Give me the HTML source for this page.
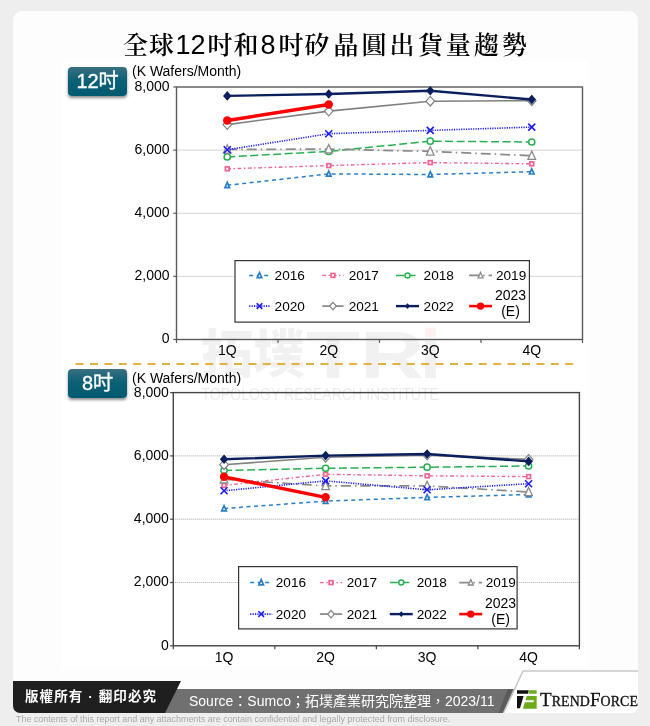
<!DOCTYPE html>
<html lang="zh-Hant">
<head>
<meta charset="utf-8">
<title>全球12吋和8吋矽晶圓出貨量趨勢</title>
<style>
html,body{margin:0;padding:0;}
body{width:650px;height:726px;background:#eeeeee;position:relative;overflow:hidden;font-family:"Liberation Sans","Noto Sans CJK TC",sans-serif;}
.card{position:absolute;left:13px;top:11px;width:625px;height:702px;background:#fdfdfd;border-radius:9px 9px 5px 7px;}
.plate{position:absolute;left:62px;top:61px;width:526px;height:607px;background:#fff;}
.title{position:absolute;left:123px;top:27px;font-family:"Liberation Sans","Noto Serif CJK SC",serif;font-size:25px;font-weight:600;line-height:36px;letter-spacing:1px;color:#000;white-space:nowrap;}
.title i{font-style:normal;font-weight:normal;font-size:27px;letter-spacing:0;margin:0 2px 0 0.5px;}
.title i.e{margin:0 3px 0 1px;}
.title span{letter-spacing:3.1px;margin-left:2.8px;}
.badge{position:absolute;left:68px;width:59px;height:29px;border-radius:4px;background:linear-gradient(#3b7081,#0d6076 45%,#005a70);box-shadow:0 2px 3px rgba(0,0,0,.45);color:#fff;font-size:20px;line-height:29px;text-align:center;white-space:nowrap;-webkit-text-stroke:0.35px #fff;}
.b1{top:67px;}
.b2{top:369px;}
svg.main{position:absolute;left:0;top:0;}
svg.main text{font-family:"Liberation Sans",sans-serif;font-size:14px;fill:#000;}
.copy{position:absolute;left:13px;top:681px;width:168px;height:32px;background:#1f1f1f;border-radius:0 0 0 7px;clip-path:polygon(0 0,168px 0,152px 32px,0 32px);color:#fff;font-weight:bold;font-size:13.5px;line-height:31px;letter-spacing:1.1px;white-space:nowrap;}
.copy span{padding-left:12px;}
.src{position:absolute;left:150px;top:689px;width:372px;height:24px;background:#707070;color:#fff;font-size:14px;line-height:25px;white-space:nowrap;}
.src span{position:absolute;left:39px;top:0;}
.disc{position:absolute;left:16px;top:713px;font-size:8.95px;line-height:12px;color:#a9a9a9;white-space:nowrap;}
.brand{position:absolute;left:540px;top:689px;font-family:"Liberation Serif",serif;color:#111;white-space:nowrap;line-height:22px;font-size:13.9px;letter-spacing:0.1px;-webkit-text-stroke:0.3px #111;}
.brand b{font-weight:normal;font-size:19px;}
</style>
</head>
<body>
<div class="card"></div>
<div class="plate"></div>
<div class="title">全球<i>12</i>吋和<i class="e">8</i>吋矽<span>晶圓出貨量趨勢</span></div>
<svg class="main" width="650" height="726" viewBox="0 0 650 726">
<g opacity="0.05">
<text x="201" y="373" style="font-family:'Liberation Sans','Noto Sans CJK TC',sans-serif;font-size:52px;font-weight:900;fill:#000;" textLength="104" lengthAdjust="spacingAndGlyphs">拓墣</text>
<text x="306" y="378" style="font-size:66px;font-weight:bold;fill:#000;" textLength="118" lengthAdjust="spacingAndGlyphs">TR</text>
<rect x="425" y="341" width="11" height="37" fill="#000"/>
<rect x="425" y="327.5" width="11" height="10" fill="#e00020"/>
</g>
<line x1="176.5" y1="276.38" x2="582.5" y2="276.38" stroke="#a8a8a8" stroke-width="1" stroke-dasharray="1 1"/>
<line x1="176.5" y1="213.25" x2="582.5" y2="213.25" stroke="#a8a8a8" stroke-width="1" stroke-dasharray="1 1"/>
<line x1="176.5" y1="150.12" x2="582.5" y2="150.12" stroke="#a8a8a8" stroke-width="1" stroke-dasharray="1 1"/>
<rect x="176.5" y="87" width="406" height="252.5" fill="none" stroke="#5a5a5a" stroke-width="1.4"/>
<line x1="173.3" y1="339.5" x2="176.5" y2="339.5" stroke="#5a5a5a" stroke-width="1.2"/>
<line x1="173.3" y1="276.38" x2="176.5" y2="276.38" stroke="#5a5a5a" stroke-width="1.2"/>
<line x1="173.3" y1="213.25" x2="176.5" y2="213.25" stroke="#5a5a5a" stroke-width="1.2"/>
<line x1="173.3" y1="150.12" x2="176.5" y2="150.12" stroke="#5a5a5a" stroke-width="1.2"/>
<line x1="173.3" y1="87" x2="176.5" y2="87" stroke="#5a5a5a" stroke-width="1.2"/>
<line x1="176.5" y1="339.5" x2="176.5" y2="343" stroke="#5a5a5a" stroke-width="1.2"/>
<line x1="278" y1="339.5" x2="278" y2="343" stroke="#5a5a5a" stroke-width="1.2"/>
<line x1="379.5" y1="339.5" x2="379.5" y2="343" stroke="#5a5a5a" stroke-width="1.2"/>
<line x1="481" y1="339.5" x2="481" y2="343" stroke="#5a5a5a" stroke-width="1.2"/>
<line x1="582.5" y1="339.5" x2="582.5" y2="343" stroke="#5a5a5a" stroke-width="1.2"/>
<text x="169.6" y="343.4" text-anchor="end">0</text>
<text x="169.6" y="280.27" text-anchor="end">2,000</text>
<text x="169.6" y="217.15" text-anchor="end">4,000</text>
<text x="169.6" y="154.03" text-anchor="end">6,000</text>
<text x="169.6" y="90.9" text-anchor="end">8,000</text>
<text x="227.25" y="355.3" text-anchor="middle">1Q</text>
<text x="328.75" y="355.3" text-anchor="middle">2Q</text>
<text x="430.25" y="355.3" text-anchor="middle">3Q</text>
<text x="531.75" y="355.3" text-anchor="middle">4Q</text>
<text x="132" y="76.4">(K Wafers/Month)</text>
<polyline points="227.25,185.3 328.75,173.9 430.25,174.5 531.75,171.7" fill="none" stroke="#2a7fc4" stroke-width="1.5" stroke-dasharray="4 3.5" stroke-linejoin="round"/>
<polygon points="227.25,182.4 229.55,187.6 224.95,187.6" fill="#fff" stroke="#2a7fc4" stroke-width="1.7"/>
<polygon points="328.75,171 331.05,176.2 326.45,176.2" fill="#fff" stroke="#2a7fc4" stroke-width="1.7"/>
<polygon points="430.25,171.6 432.55,176.8 427.95,176.8" fill="#fff" stroke="#2a7fc4" stroke-width="1.7"/>
<polygon points="531.75,168.8 534.05,174 529.45,174" fill="#fff" stroke="#2a7fc4" stroke-width="1.7"/>
<polyline points="227.25,168.8 328.75,165.6 430.25,162.6 531.75,163.8" fill="none" stroke="#f0648f" stroke-width="1.4" stroke-dasharray="3.8 2.5 1.5 2.5" stroke-linejoin="round"/>
<rect x="225.35" y="166.9" width="3.8" height="3.8" fill="#fff" stroke="#f0648f" stroke-width="1.7"/>
<rect x="326.85" y="163.7" width="3.8" height="3.8" fill="#fff" stroke="#f0648f" stroke-width="1.7"/>
<rect x="428.35" y="160.7" width="3.8" height="3.8" fill="#fff" stroke="#f0648f" stroke-width="1.7"/>
<rect x="529.85" y="161.9" width="3.8" height="3.8" fill="#fff" stroke="#f0648f" stroke-width="1.7"/>
<polyline points="227.25,156.9 328.75,151.4 430.25,141.2 531.75,142" fill="none" stroke="#27b050" stroke-width="1.5" stroke-dasharray="8 3.5" stroke-linejoin="round"/>
<circle cx="227.25" cy="156.9" r="3.1" fill="#fff" stroke="#27b050" stroke-width="1.5"/>
<circle cx="328.75" cy="151.4" r="3.1" fill="#fff" stroke="#27b050" stroke-width="1.5"/>
<circle cx="430.25" cy="141.2" r="3.1" fill="#fff" stroke="#27b050" stroke-width="1.5"/>
<circle cx="531.75" cy="142" r="3.1" fill="#fff" stroke="#27b050" stroke-width="1.5"/>
<polyline points="227.25,149.4 328.75,149.1 430.25,151.4 531.75,155.7" fill="none" stroke="#8a8a8a" stroke-width="1.7" stroke-dasharray="10 4 1.5 4" stroke-linejoin="round"/>
<polygon points="227.25,144.8 231.05,153.08 223.45,153.08" fill="#fff" stroke="#8a8a8a" stroke-width="1.3"/>
<polygon points="328.75,144.5 332.55,152.78 324.95,152.78" fill="#fff" stroke="#8a8a8a" stroke-width="1.3"/>
<polygon points="430.25,146.8 434.05,155.08 426.45,155.08" fill="#fff" stroke="#8a8a8a" stroke-width="1.3"/>
<polygon points="531.75,151.1 535.55,159.38 527.95,159.38" fill="#fff" stroke="#8a8a8a" stroke-width="1.3"/>
<polyline points="227.25,149.75 328.75,133.7 430.25,130.4 531.75,127.1" fill="none" stroke="#1c1cf0" stroke-width="1.6" stroke-dasharray="1.2 1.2" stroke-linejoin="round"/>
<path d="M223.75 146.25L230.75 153.25M230.75 146.25L223.75 153.25" stroke="#1c1cf0" stroke-width="1.6" fill="none"/>
<path d="M325.25 130.2L332.25 137.2M332.25 130.2L325.25 137.2" stroke="#1c1cf0" stroke-width="1.6" fill="none"/>
<path d="M426.75 126.9L433.75 133.9M433.75 126.9L426.75 133.9" stroke="#1c1cf0" stroke-width="1.6" fill="none"/>
<path d="M528.25 123.6L535.25 130.6M535.25 123.6L528.25 130.6" stroke="#1c1cf0" stroke-width="1.6" fill="none"/>
<polyline points="227.25,124.6 328.75,111.1 430.25,101.2 531.75,100.7" fill="none" stroke="#808080" stroke-width="1.6" stroke-linejoin="round"/>
<polygon points="227.25,119.8 231.55,124.6 227.25,129.4 222.95,124.6" fill="#fff" stroke="#808080" stroke-width="1.2"/>
<polygon points="328.75,106.3 333.05,111.1 328.75,115.9 324.45,111.1" fill="#fff" stroke="#808080" stroke-width="1.2"/>
<polygon points="430.25,96.4 434.55,101.2 430.25,106 425.95,101.2" fill="#fff" stroke="#808080" stroke-width="1.2"/>
<polygon points="531.75,95.9 536.05,100.7 531.75,105.5 527.45,100.7" fill="#fff" stroke="#808080" stroke-width="1.2"/>
<polyline points="227.25,95.9 328.75,94 430.25,90.7 531.75,99.5" fill="none" stroke="#0b1f5e" stroke-width="2.4" stroke-linejoin="round"/>
<polygon points="227.25,91.1 231.45,95.9 227.25,100.7 223.05,95.9" fill="#0b1f5e"/>
<polygon points="328.75,89.2 332.95,94 328.75,98.8 324.55,94" fill="#0b1f5e"/>
<polygon points="430.25,85.9 434.45,90.7 430.25,95.5 426.05,90.7" fill="#0b1f5e"/>
<polygon points="531.75,94.7 535.95,99.5 531.75,104.3 527.55,99.5" fill="#0b1f5e"/>
<polyline points="227.25,120.5 328.75,104.5" fill="none" stroke="#ff0000" stroke-width="3.4" stroke-linejoin="round"/>
<circle cx="227.25" cy="120.5" r="4.2" fill="#ff0000"/>
<circle cx="328.75" cy="104.5" r="4.2" fill="#ff0000"/>
<rect x="235" y="260.6" width="294.4" height="61.5" fill="#fff" stroke="#333" stroke-width="1.2"/>
<line x1="249.2" y1="275.4" x2="269.8" y2="275.4" stroke="#2a7fc4" stroke-width="1.5" stroke-dasharray="4 3.5"/>
<polygon points="259.5,272.5 261.8,277.7 257.2,277.7" fill="#fff" stroke="#2a7fc4" stroke-width="1.7"/>
<text x="274.6" y="279.9" style="font-size:13.6px">2016</text>
<line x1="322.3" y1="275.4" x2="343.6" y2="275.4" stroke="#f0648f" stroke-width="1.4" stroke-dasharray="3.8 2.5 1.5 2.5"/>
<rect x="331.05" y="273.5" width="3.8" height="3.8" fill="#fff" stroke="#f0648f" stroke-width="1.7"/>
<text x="348.7" y="279.9" style="font-size:13.6px">2017</text>
<line x1="396" y1="275.4" x2="419" y2="275.4" stroke="#27b050" stroke-width="1.5" stroke-dasharray="8 3.5"/>
<circle cx="407.5" cy="275.4" r="2.48" fill="#fff" stroke="#27b050" stroke-width="1.5"/>
<text x="423.6" y="279.9" style="font-size:13.6px">2018</text>
<line x1="469.1" y1="275.4" x2="492" y2="275.4" stroke="#8a8a8a" stroke-width="1.7" stroke-dasharray="10 4 1.5 4"/>
<polygon points="480.55,272.41 483.02,277.79 478.08,277.79" fill="#fff" stroke="#8a8a8a" stroke-width="1.3"/>
<text x="496" y="279.9" style="font-size:13.6px">2019</text>
<line x1="249.2" y1="306.1" x2="269.8" y2="306.1" stroke="#1c1cf0" stroke-width="1.6" stroke-dasharray="1.2 1.2"/>
<path d="M256.7 303.3L262.3 308.9M262.3 303.3L256.7 308.9" stroke="#1c1cf0" stroke-width="1.6" fill="none"/>
<text x="274.6" y="310.6" style="font-size:13.6px">2020</text>
<line x1="322.3" y1="306.1" x2="343.6" y2="306.1" stroke="#808080" stroke-width="1.6"/>
<polygon points="332.95,302.36 336.3,306.1 332.95,309.84 329.6,306.1" fill="#fff" stroke="#808080" stroke-width="1.2"/>
<text x="348.7" y="310.6" style="font-size:13.6px">2021</text>
<line x1="396" y1="306.1" x2="419" y2="306.1" stroke="#0b1f5e" stroke-width="2.4"/>
<polygon points="407.5,303.22 410.02,306.1 407.5,308.98 404.98,306.1" fill="#0b1f5e"/>
<text x="423.6" y="310.6" style="font-size:13.6px">2022</text>
<line x1="469.1" y1="306.1" x2="492" y2="306.1" stroke="#ff0000" stroke-width="2.6"/>
<circle cx="480.55" cy="306.1" r="3.7" fill="#ff0000"/>
<text x="510.5" y="299.9" text-anchor="middle">2023</text>
<text x="510.5" y="316.1" text-anchor="middle">(E)</text>
<line x1="75.6" y1="364" x2="576.4" y2="364" stroke="#e2b240" stroke-width="2" stroke-dasharray="8 6.4"/>
<line x1="173.3" y1="582.5" x2="579.4" y2="582.5" stroke="#a8a8a8" stroke-width="1" stroke-dasharray="1 1"/>
<line x1="173.3" y1="519.2" x2="579.4" y2="519.2" stroke="#a8a8a8" stroke-width="1" stroke-dasharray="1 1"/>
<line x1="173.3" y1="455.9" x2="579.4" y2="455.9" stroke="#a8a8a8" stroke-width="1" stroke-dasharray="1 1"/>
<rect x="173.3" y="392.6" width="406.1" height="253.2" fill="none" stroke="#444" stroke-width="1.4"/>
<line x1="170.1" y1="645.8" x2="173.3" y2="645.8" stroke="#444" stroke-width="1.2"/>
<line x1="170.1" y1="582.5" x2="173.3" y2="582.5" stroke="#444" stroke-width="1.2"/>
<line x1="170.1" y1="519.2" x2="173.3" y2="519.2" stroke="#444" stroke-width="1.2"/>
<line x1="170.1" y1="455.9" x2="173.3" y2="455.9" stroke="#444" stroke-width="1.2"/>
<line x1="170.1" y1="392.6" x2="173.3" y2="392.6" stroke="#444" stroke-width="1.2"/>
<line x1="173.3" y1="645.8" x2="173.3" y2="649.3" stroke="#444" stroke-width="1.2"/>
<line x1="274.82" y1="645.8" x2="274.82" y2="649.3" stroke="#444" stroke-width="1.2"/>
<line x1="376.35" y1="645.8" x2="376.35" y2="649.3" stroke="#444" stroke-width="1.2"/>
<line x1="477.88" y1="645.8" x2="477.88" y2="649.3" stroke="#444" stroke-width="1.2"/>
<line x1="579.4" y1="645.8" x2="579.4" y2="649.3" stroke="#444" stroke-width="1.2"/>
<text x="168.9" y="649.7" text-anchor="end">0</text>
<text x="168.9" y="586.4" text-anchor="end">2,000</text>
<text x="168.9" y="523.1" text-anchor="end">4,000</text>
<text x="168.9" y="459.8" text-anchor="end">6,000</text>
<text x="168.9" y="396.5" text-anchor="end">8,000</text>
<text x="224.06" y="661.6" text-anchor="middle">1Q</text>
<text x="325.59" y="661.6" text-anchor="middle">2Q</text>
<text x="427.11" y="661.6" text-anchor="middle">3Q</text>
<text x="528.64" y="661.6" text-anchor="middle">4Q</text>
<text x="132" y="382.8">(K Wafers/Month)</text>
<polyline points="224.06,508.5 325.59,501.1 427.11,497.4 528.64,494.5" fill="none" stroke="#2a7fc4" stroke-width="1.5" stroke-dasharray="4 3.5" stroke-linejoin="round"/>
<polygon points="224.06,505.6 226.36,510.8 221.76,510.8" fill="#fff" stroke="#2a7fc4" stroke-width="1.7"/>
<polygon points="325.59,498.2 327.89,503.4 323.29,503.4" fill="#fff" stroke="#2a7fc4" stroke-width="1.7"/>
<polygon points="427.11,494.5 429.41,499.7 424.81,499.7" fill="#fff" stroke="#2a7fc4" stroke-width="1.7"/>
<polygon points="528.64,491.6 530.94,496.8 526.34,496.8" fill="#fff" stroke="#2a7fc4" stroke-width="1.7"/>
<polyline points="224.06,485.4 325.59,474.3 427.11,475.8 528.64,476.6" fill="none" stroke="#f0648f" stroke-width="1.4" stroke-dasharray="3.8 2.5 1.5 2.5" stroke-linejoin="round"/>
<rect x="222.16" y="483.5" width="3.8" height="3.8" fill="#fff" stroke="#f0648f" stroke-width="1.7"/>
<rect x="323.69" y="472.4" width="3.8" height="3.8" fill="#fff" stroke="#f0648f" stroke-width="1.7"/>
<rect x="425.21" y="473.9" width="3.8" height="3.8" fill="#fff" stroke="#f0648f" stroke-width="1.7"/>
<rect x="526.74" y="474.7" width="3.8" height="3.8" fill="#fff" stroke="#f0648f" stroke-width="1.7"/>
<polyline points="224.06,470.5 325.59,468.3 427.11,467.2 528.64,466" fill="none" stroke="#27b050" stroke-width="1.5" stroke-dasharray="8 3.5" stroke-linejoin="round"/>
<circle cx="224.06" cy="470.5" r="3.1" fill="#fff" stroke="#27b050" stroke-width="1.5"/>
<circle cx="325.59" cy="468.3" r="3.1" fill="#fff" stroke="#27b050" stroke-width="1.5"/>
<circle cx="427.11" cy="467.2" r="3.1" fill="#fff" stroke="#27b050" stroke-width="1.5"/>
<circle cx="528.64" cy="466" r="3.1" fill="#fff" stroke="#27b050" stroke-width="1.5"/>
<polyline points="224.06,479.3 325.59,485.9 427.11,485.9 528.64,492" fill="none" stroke="#8a8a8a" stroke-width="1.7" stroke-dasharray="10 4 1.5 4" stroke-linejoin="round"/>
<polygon points="224.06,474.7 227.86,482.98 220.26,482.98" fill="#fff" stroke="#8a8a8a" stroke-width="1.3"/>
<polygon points="325.59,481.3 329.39,489.58 321.79,489.58" fill="#fff" stroke="#8a8a8a" stroke-width="1.3"/>
<polygon points="427.11,481.3 430.91,489.58 423.31,489.58" fill="#fff" stroke="#8a8a8a" stroke-width="1.3"/>
<polygon points="528.64,487.4 532.44,495.68 524.84,495.68" fill="#fff" stroke="#8a8a8a" stroke-width="1.3"/>
<polyline points="224.06,490.8 325.59,480.9 427.11,489.8 528.64,483.7" fill="none" stroke="#1c1cf0" stroke-width="1.6" stroke-dasharray="1.2 1.2" stroke-linejoin="round"/>
<path d="M220.56 487.3L227.56 494.3M227.56 487.3L220.56 494.3" stroke="#1c1cf0" stroke-width="1.6" fill="none"/>
<path d="M322.09 477.4L329.09 484.4M329.09 477.4L322.09 484.4" stroke="#1c1cf0" stroke-width="1.6" fill="none"/>
<path d="M423.61 486.3L430.61 493.3M430.61 486.3L423.61 493.3" stroke="#1c1cf0" stroke-width="1.6" fill="none"/>
<path d="M525.14 480.2L532.14 487.2M532.14 480.2L525.14 487.2" stroke="#1c1cf0" stroke-width="1.6" fill="none"/>
<polyline points="224.06,464.7 325.59,457.3 427.11,455.1 528.64,459.4" fill="none" stroke="#808080" stroke-width="1.6" stroke-linejoin="round"/>
<polygon points="224.06,459.9 228.36,464.7 224.06,469.5 219.76,464.7" fill="#fff" stroke="#808080" stroke-width="1.2"/>
<polygon points="325.59,452.5 329.89,457.3 325.59,462.1 321.29,457.3" fill="#fff" stroke="#808080" stroke-width="1.2"/>
<polygon points="427.11,450.3 431.41,455.1 427.11,459.9 422.81,455.1" fill="#fff" stroke="#808080" stroke-width="1.2"/>
<polygon points="528.64,454.6 532.94,459.4 528.64,464.2 524.34,459.4" fill="#fff" stroke="#808080" stroke-width="1.2"/>
<polyline points="224.06,459.3 325.59,455.6 427.11,454 528.64,461.4" fill="none" stroke="#0b1f5e" stroke-width="2.4" stroke-linejoin="round"/>
<polygon points="224.06,454.5 228.26,459.3 224.06,464.1 219.86,459.3" fill="#0b1f5e"/>
<polygon points="325.59,450.8 329.79,455.6 325.59,460.4 321.39,455.6" fill="#0b1f5e"/>
<polygon points="427.11,449.2 431.31,454 427.11,458.8 422.91,454" fill="#0b1f5e"/>
<polygon points="528.64,456.6 532.84,461.4 528.64,466.2 524.44,461.4" fill="#0b1f5e"/>
<polyline points="224.06,476.8 325.59,497.3" fill="none" stroke="#ff0000" stroke-width="3.4" stroke-linejoin="round"/>
<circle cx="224.06" cy="476.8" r="4.2" fill="#ff0000"/>
<circle cx="325.59" cy="497.3" r="4.2" fill="#ff0000"/>
<rect x="238.6" y="566.6" width="278.5" height="62.3" fill="#fff" stroke="#333" stroke-width="1.2"/>
<line x1="250.2" y1="582.6" x2="272.2" y2="582.6" stroke="#2a7fc4" stroke-width="1.5" stroke-dasharray="4 3.5"/>
<polygon points="261.2,579.7 263.5,584.9 258.9,584.9" fill="#fff" stroke="#2a7fc4" stroke-width="1.7"/>
<text x="275.8" y="587.1" style="font-size:13.6px">2016</text>
<line x1="319.9" y1="582.6" x2="342.2" y2="582.6" stroke="#f0648f" stroke-width="1.4" stroke-dasharray="3.8 2.5 1.5 2.5"/>
<rect x="329.15" y="580.7" width="3.8" height="3.8" fill="#fff" stroke="#f0648f" stroke-width="1.7"/>
<text x="346.8" y="587.1" style="font-size:13.6px">2017</text>
<line x1="389.8" y1="582.6" x2="412.7" y2="582.6" stroke="#27b050" stroke-width="1.5" stroke-dasharray="8 3.5"/>
<circle cx="401.25" cy="582.6" r="2.48" fill="#fff" stroke="#27b050" stroke-width="1.5"/>
<text x="416.7" y="587.1" style="font-size:13.6px">2018</text>
<line x1="459.3" y1="582.6" x2="482.2" y2="582.6" stroke="#8a8a8a" stroke-width="1.7" stroke-dasharray="10 4 1.5 4"/>
<polygon points="470.75,579.61 473.22,584.99 468.28,584.99" fill="#fff" stroke="#8a8a8a" stroke-width="1.3"/>
<text x="485.7" y="587.1" style="font-size:13.6px">2019</text>
<line x1="250.2" y1="614.1" x2="272.2" y2="614.1" stroke="#1c1cf0" stroke-width="1.6" stroke-dasharray="1.2 1.2"/>
<path d="M258.4 611.3L264 616.9M264 611.3L258.4 616.9" stroke="#1c1cf0" stroke-width="1.6" fill="none"/>
<text x="275.8" y="618.6" style="font-size:13.6px">2020</text>
<line x1="319.9" y1="614.1" x2="342.2" y2="614.1" stroke="#808080" stroke-width="1.6"/>
<polygon points="331.05,610.36 334.4,614.1 331.05,617.84 327.7,614.1" fill="#fff" stroke="#808080" stroke-width="1.2"/>
<text x="346.8" y="618.6" style="font-size:13.6px">2021</text>
<line x1="389.8" y1="614.1" x2="412.7" y2="614.1" stroke="#0b1f5e" stroke-width="2.4"/>
<polygon points="401.25,611.22 403.77,614.1 401.25,616.98 398.73,614.1" fill="#0b1f5e"/>
<text x="416.7" y="618.6" style="font-size:13.6px">2022</text>
<line x1="459.3" y1="614.1" x2="482.2" y2="614.1" stroke="#ff0000" stroke-width="2.6"/>
<circle cx="470.75" cy="614.1" r="3.7" fill="#ff0000"/>
<text x="500.6" y="607.9" text-anchor="middle">2023</text>
<text x="500.6" y="624.1" text-anchor="middle">(E)</text>
<text x="201.5" y="400" style="font-size:16.5px;fill:#000;" opacity="0.08" textLength="237.5" lengthAdjust="spacingAndGlyphs">TOPOLOGY RESEARCH INSTITUTE</text>
</svg>
<div class="badge b1">12吋</div>
<div class="badge b2">8吋</div>
<div class="src"><span>Source：Sumco；拓墣產業研究院整理，2023/11</span></div>
<div class="copy"><span>版權所有 · 翻印必究</span></div>
<svg class="main" width="650" height="726" viewBox="0 0 650 726">
<polygon points="507.5,689 512.5,689 503.5,713 498.5,713" fill="#5b5b5b"/>
<polygon points="523,671 638,671 638,708 633,713 503.5,713" fill="#fff"/>
<polyline points="638,671 523,671 503.5,713" fill="none" stroke="#c9c9c9" stroke-width="1.6"/>
<polygon points="517,690.2 528.8,690.2 528,693.7 517,693.7" fill="#111"/>
<polygon points="517,696.1 523.6,696.1 520,708.2 517,708.2" fill="#111"/>
<polygon points="529.4,690.2 536.7,690.2 536.7,693.7 528.6,693.7" fill="#6cab1c"/>
<polygon points="526.7,696.1 536.7,696.1 536.7,708.8 522.9,708.8 524.8,702.3 533.4,702.3 534.2,700.2 525.5,700.2" fill="#6cab1c"/>
</svg>
<div class="brand"><b>T</b>REND<b>F</b>ORCE</div>
<div class="disc">The contents of this report and any attachments are contain confidential and legally protected from disclosure.</div>
</body>
</html>
